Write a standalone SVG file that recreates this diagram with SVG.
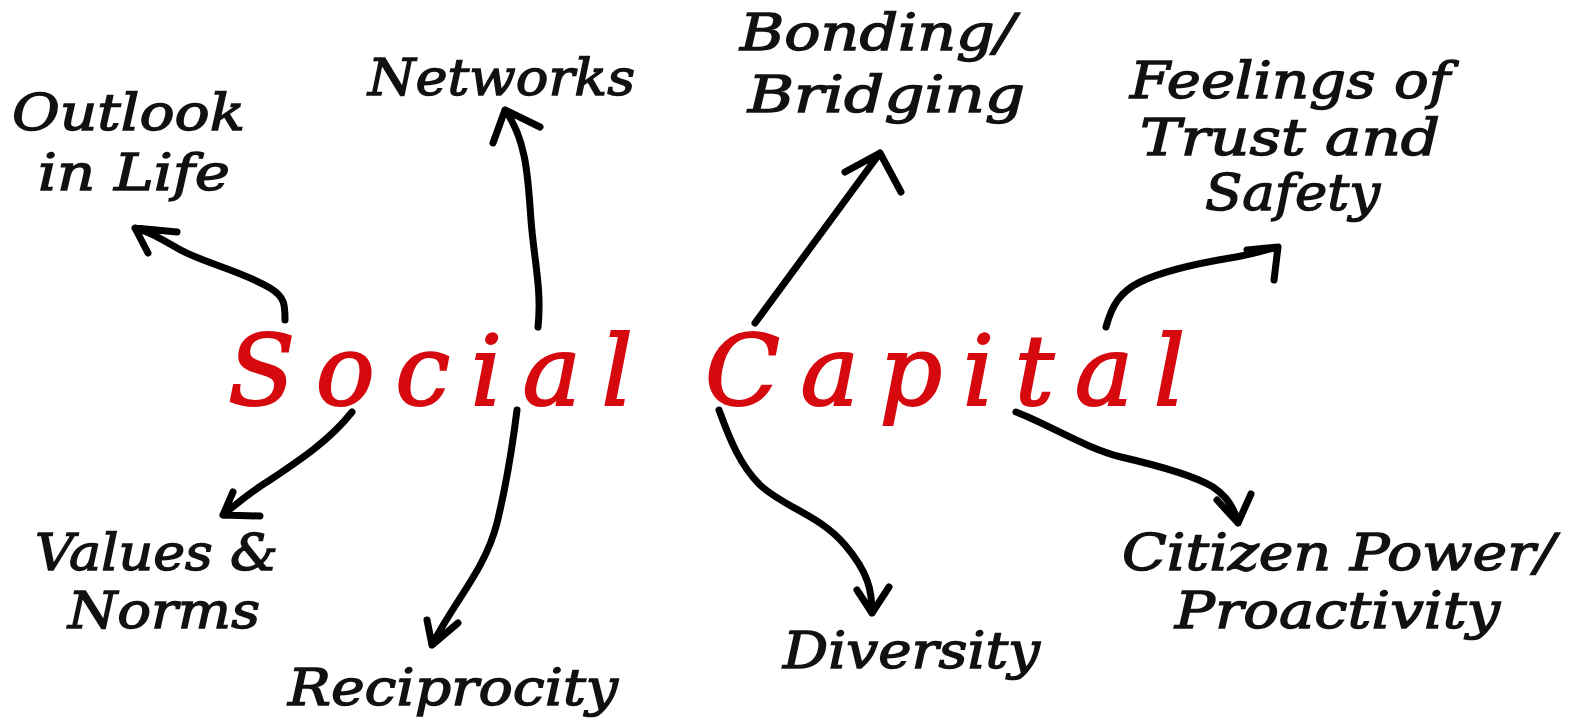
<svg xmlns="http://www.w3.org/2000/svg" width="1569" height="724" viewBox="0 0 1569 724">
<style>
.lbl{font-family:"DejaVu Serif","Liberation Serif",serif;font-style:italic;font-size:51px;fill:#111;stroke:#111;stroke-width:1.4;}
.title{font-family:"DejaVu Serif","Liberation Serif",serif;font-style:italic;font-size:98px;fill:#d6090f;stroke:#d6090f;stroke-width:2;}
.c{fill:none;stroke:#000;stroke-width:7;stroke-linecap:round;stroke-linejoin:round;}
</style>
<rect width="1569" height="724" fill="#fff"/>
<g id="center"><text class="title" x="228" y="405" textLength="957" lengthAdjust="spacing">Social Capital</text></g>
<g id="outlook"><text class="lbl" x="12" y="130" textLength="233" lengthAdjust="spacingAndGlyphs">Outlook</text><text class="lbl" x="38" y="190" textLength="192" lengthAdjust="spacingAndGlyphs">in Life</text></g>
<g id="networks"><text class="lbl" x="368" y="95" textLength="267" lengthAdjust="spacingAndGlyphs">Networks</text></g>
<g id="bonding"><text class="lbl" x="740" y="50" textLength="275" lengthAdjust="spacingAndGlyphs">Bonding/</text><text class="lbl" x="748" y="112" textLength="277" lengthAdjust="spacingAndGlyphs">Bridging</text></g>
<g id="feelings"><text class="lbl" x="1130" y="98" textLength="320" lengthAdjust="spacingAndGlyphs">Feelings of</text><text class="lbl" x="1140" y="155" textLength="300" lengthAdjust="spacingAndGlyphs">Trust and</text><text class="lbl" x="1205" y="210" textLength="175" lengthAdjust="spacingAndGlyphs">Safety</text></g>
<g id="values"><text class="lbl" x="35" y="570" textLength="243" lengthAdjust="spacingAndGlyphs">Values &amp;</text><text class="lbl" x="68" y="628" textLength="192" lengthAdjust="spacingAndGlyphs">Norms</text></g>
<g id="reciprocity"><text class="lbl" x="288" y="705" textLength="330" lengthAdjust="spacingAndGlyphs">Reciprocity</text></g>
<g id="diversity"><text class="lbl" x="783" y="668" textLength="257" lengthAdjust="spacingAndGlyphs">Diversity</text></g>
<g id="citizen"><text class="lbl" x="1122" y="570" textLength="433" lengthAdjust="spacingAndGlyphs">Citizen Power/</text><text class="lbl" x="1175" y="628" textLength="325" lengthAdjust="spacingAndGlyphs">Proactivity</text></g>
<g id="connectors">
<path class="c" d="M285,320 C285,305 285,297 270,288 C240,270 200,262 177,248 C160,238 150,232 135,228 M148,253 L135,228 L177,232"/>
<path class="c" d="M538,327 C542,290 534,260 531,220 C528,180 527,140 505,110 M493,143 L505,110 L540,127"/>
<path class="c" d="M755,323 L880,153 M845,172 L880,153 L901,192"/>
<path class="c" d="M1106,327 C1112,305 1120,292 1140,282 C1165,270 1200,263 1230,258 C1250,255 1265,250 1278,247 M1274,280 L1278,247 L1247,250"/>
<path class="c" d="M352,412 C330,440 300,460 270,480 C250,492 235,505 223,515 M233,492 L223,515 L260,516"/>
<path class="c" d="M517,410 C512,450 505,490 497,523 C485,570 455,600 432,645 M427,620 L432,645 L458,623"/>
<path class="c" d="M719,410 C730,440 740,465 760,485 C785,508 820,515 845,545 C868,572 872,590 872,613 M857,590 L872,613 L889,587"/>
<path class="c" d="M1016,412 C1050,425 1085,448 1121,457 C1160,466 1195,476 1213,487 C1228,497 1235,510 1238,523 M1217,500 L1238,523 L1251,494"/>
</g>
</svg>
